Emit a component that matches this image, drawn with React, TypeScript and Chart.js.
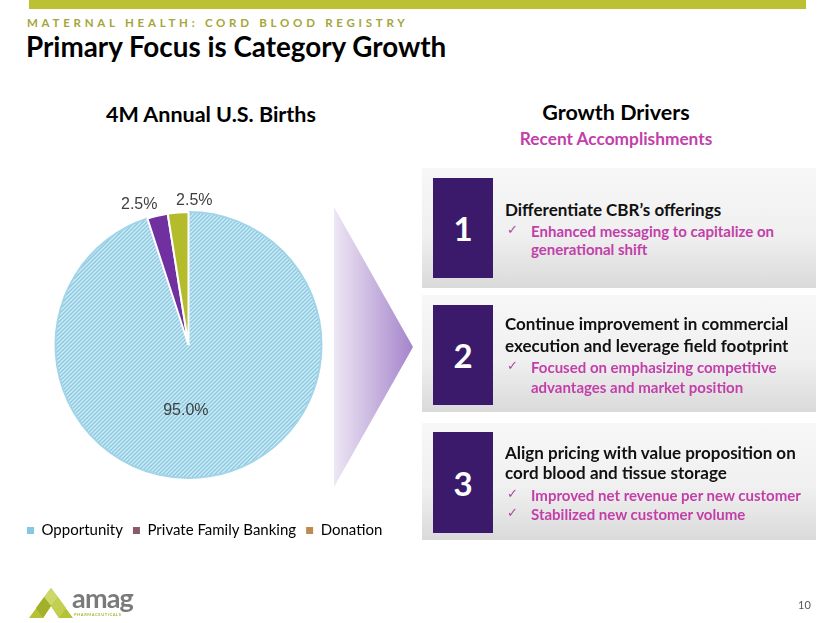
import React, { useEffect, useRef } from 'react';
import { Chart, registerables } from 'chart.js';

Chart.register(...registerables);

// ---- data ----
const categories = ['Opportunity', 'Private Family Banking', 'Donation'];
const shares = [95.0, 2.5, 2.5];

// ---- styles ----
const sliceColors = ['#b6dff0', '#7030a0', '#b5bc2c'];
const legendColors = ['#86c8e2', '#8a5a6c', '#bf8a52'];
const FONT = 'Lato, "Open Sans", sans-serif';
const PINK = '#c23fa9';
const PURPLE = '#3b1a6b';
// space reserved around the pie inside the plot area (left, right, bottom)
const PIE_INSET = { left: 35, right: 77, bottom: 34 };

function makeHatch(ctx: CanvasRenderingContext2D) {
  const c = document.createElement('canvas');
  c.width = 4;
  c.height = 4;
  const g = c.getContext('2d')!;
  g.fillStyle = '#d0ebf6';
  g.fillRect(0, 0, 4, 4);
  g.strokeStyle = '#88c8e1';
  g.lineWidth = 1.3;
  const seg = (x1: number, y1: number, x2: number, y2: number) => {
    g.beginPath();
    g.moveTo(x1, y1);
    g.lineTo(x2, y2);
    g.stroke();
  };
  seg(0, 4, 4, 0);
  seg(-1, 1, 1, -1);
  seg(3, 5, 5, 3);
  return ctx.createPattern(c, 'repeat');
}

const insetPlugin = {
  id: 'pieInset',
  afterLayout(chart: any) {
    const a = chart.chartArea;
    a.left += PIE_INSET.left;
    a.right -= PIE_INSET.right;
    a.bottom -= PIE_INSET.bottom;
    a.width = a.right - a.left;
    a.height = a.bottom - a.top;
  },
};

const sliceLabelPlugin = {
  id: 'sliceLabels',
  afterDatasetsDraw(chart: any) {
    const ctx = chart.ctx as CanvasRenderingContext2D;
    const meta = chart.getDatasetMeta(0);
    ctx.save();
    ctx.font = '16px "Liberation Sans", Arial, sans-serif';
    ctx.fillStyle = '#3f3f3f';
    let small = 0;
    meta.data.forEach((arc: any, i: number) => {
      const p = arc.getProps(['x', 'y', 'startAngle', 'endAngle', 'outerRadius'], true);
      const mid = (p.startAngle + p.endAngle) / 2;
      const text = shares[i].toFixed(1) + '%';
      if (shares[i] > 10) {
        ctx.textAlign = 'center';
        ctx.textBaseline = 'middle';
        ctx.fillText(text, p.x + Math.cos(mid) * p.outerRadius * 0.5 - 13, p.y + Math.sin(mid) * p.outerRadius * 0.5);
      } else {
        const ox = p.x + Math.cos(mid) * p.outerRadius;
        const oy = p.y + Math.sin(mid) * p.outerRadius;
        ctx.textBaseline = 'alphabetic';
        ctx.textAlign = small === 0 ? 'right' : 'left';
        ctx.fillText(text, ox + (small === 0 ? 0 : -2), oy - 7);
        small++;
      }
    });
    ctx.restore();
  },
};

function PieChart() {
  const ref = useRef<HTMLCanvasElement>(null);
  useEffect(() => {
    const canvas = ref.current!;
    const ctx = canvas.getContext('2d')!;
    const hatch = makeHatch(ctx);
    const chart = new Chart(canvas, {
      type: 'pie',
      data: {
        labels: categories,
        datasets: [
          {
            data: shares,
            backgroundColor: [hatch as any, sliceColors[1], sliceColors[2]],
            borderColor: ['#a2d5e9', '#ffffff', '#ffffff'],
            borderWidth: 2,
          },
        ],
      },
      options: {
        responsive: false,
        animation: false,
        layout: { padding: { left: 0, right: 0, top: 31, bottom: 0 } },
        plugins: {
          tooltip: { enabled: false },
          legend: {
            position: 'bottom',
            align: 'start',
            labels: {
              boxWidth: 7,
              boxHeight: 7,
              padding: 10,
              color: '#1a1a1a',
              font: { family: FONT, size: 15 },
              generateLabels: () =>
                categories.map((c, i) => ({
                  text: c,
                  fillStyle: legendColors[i],
                  strokeStyle: legendColors[i],
                  lineWidth: 0,
                  hidden: false,
                  index: i,
                  datasetIndex: 0,
                })),
            },
          },
        },
      },
      plugins: [insetPlugin, sliceLabelPlugin],
    });
    return () => chart.destroy();
  }, []);
  return (
    <canvas
      ref={ref}
      width={385}
      height={368}
      style={{ position: 'absolute', left: 17, top: 180, width: 385, height: 368 }}
    />
  );
}

function Line({ y, check, children }: { y: number; check?: boolean; children: React.ReactNode }) {
  return (
    <div
      style={{
        position: 'absolute',
        left: check ? 531 : 505,
        top: y - 11,
        height: 22,
        lineHeight: '22px',
        whiteSpace: 'nowrap',
        fontFamily: FONT,
        fontWeight: 700,
        fontSize: check ? 15 : 17,
        color: check ? PINK : '#111',
      }}
    >
      {children}
    </div>
  );
}

function CheckMark({ y }: { y: number }) {
  return (
    <div
      style={{
        position: 'absolute',
        left: 507,
        top: y - 10,
        lineHeight: '20px',
        fontFamily: '"DejaVu Sans", sans-serif',
        fontSize: 13,
        color: '#b0449a',
      }}
    >
      ✓
    </div>
  );
}

function Box({ top, height, sqTop, sqH, num }: { top: number; height: number; sqTop: number; sqH: number; num: string }) {
  return (
    <>
      <div
        style={{
          position: 'absolute',
          left: 422,
          top,
          width: 394,
          height,
          background: 'linear-gradient(to bottom, #f7f7f7 0%, #f0f0f0 55%, #dadada 100%)',
        }}
      />
      <div
        style={{
          position: 'absolute',
          left: 433,
          top: sqTop,
          width: 60,
          height: sqH,
          background: PURPLE,
          color: '#fff',
          fontFamily: FONT,
          fontWeight: 700,
          fontSize: 33,
          display: 'flex',
          alignItems: 'center',
          justifyContent: 'center',
        }}
      >
        {num}
      </div>
    </>
  );
}

export default function App() {
  return (
    <div
      style={{
        position: 'absolute',
        left: 0,
        top: 0,
        width: 830,
        height: 623,
        background: '#fff',
        overflow: 'hidden',
        fontFamily: FONT,
      }}
    >
      <div style={{ position: 'absolute', left: 29, top: 0, width: 777, height: 9, background: '#bcc033' }} />
      <div
        style={{
          position: 'absolute',
          left: 27,
          top: 15,
          fontSize: 11.5,
          fontWeight: 700,
          letterSpacing: 3.75,
          color: '#a4a63a',
          lineHeight: '16px',
          whiteSpace: 'nowrap',
        }}
      >
        MATERNAL HEALTH: CORD BLOOD REGISTRY
      </div>
      <div
        style={{
          position: 'absolute',
          left: 26,
          top: 30,
          fontSize: 27.8,
          fontWeight: 700,
          color: '#000',
          lineHeight: '34px',
          whiteSpace: 'nowrap',
        }}
      >
        Primary Focus is Category Growth
      </div>
      <div
        style={{
          position: 'absolute',
          left: 61,
          width: 300,
          textAlign: 'center',
          top: 101,
          fontSize: 21.5,
          fontWeight: 700,
          lineHeight: '26px',
          color: '#000',
        }}
      >
        4M Annual U.S. Births
      </div>
      <div
        style={{
          position: 'absolute',
          left: 466,
          width: 300,
          textAlign: 'center',
          top: 99,
          fontSize: 21.5,
          fontWeight: 700,
          lineHeight: '26px',
          color: '#000',
        }}
      >
        Growth Drivers
      </div>
      <div
        style={{
          position: 'absolute',
          left: 466,
          width: 300,
          textAlign: 'center',
          top: 128,
          fontSize: 17.3,
          fontWeight: 700,
          lineHeight: '22px',
          color: PINK,
        }}
      >
        Recent Accomplishments
      </div>

      <PieChart />

      <svg style={{ position: 'absolute', left: 0, top: 0 }} width={830} height={623}>
        <defs>
          <linearGradient id="arrowGrad" x1="0" y1="0" x2="1" y2="0">
            <stop offset="0" stopColor="#ede7f4" />
            <stop offset="1" stopColor="#a584cb" />
          </linearGradient>
        </defs>
        <polygon points="334,207 413,347 334,487" fill="url(#arrowGrad)" />
        {/* logo */}
        <polygon points="51,588 73,618 59,618 51,606 43,618 29,618" fill="#b4c234" />
        <polygon points="51,588 58,597 51,606 44,597" fill="#cdd86a" />
        <polygon points="44,597 51,606 43,618 36,608" fill="#a3b02a" />
        <polygon points="58,597 66,608 59,618 51,606" fill="#c3cf50" />
      </svg>

      <Box top={168} height={120} sqTop={178} sqH={100} num="1" />
      <Line y={210}>Differentiate CBR’s offerings</Line>
      <CheckMark y={230} />
      <Line y={231} check>Enhanced messaging to capitalize on</Line>
      <Line y={249} check>generational shift</Line>

      <Box top={295} height={117} sqTop={305} sqH={100} num="2" />
      <Line y={324}>Continue improvement in commercial</Line>
      <Line y={346}>execution and leverage field footprint</Line>
      <CheckMark y={366} />
      <Line y={367} check>Focused on emphasizing competitive</Line>
      <Line y={387} check>advantages and market position</Line>

      <Box top={423} height={117} sqTop={432} sqH={101} num="3" />
      <Line y={453}>Align pricing with value proposition on</Line>
      <Line y={473}>cord blood and tissue storage</Line>
      <CheckMark y={494} />
      <Line y={495} check>Improved net revenue per new customer</Line>
      <CheckMark y={513} />
      <Line y={514} check>Stabilized new customer volume</Line>

      <div
        style={{
          position: 'absolute',
          left: 72,
          top: 584,
          fontSize: 27,
          fontWeight: 700,
          color: '#7a7a7a',
          lineHeight: '28px',
          letterSpacing: -0.8,
        }}
      >
        amag
      </div>
      <div
        style={{
          position: 'absolute',
          left: 74,
          top: 612,
          fontSize: 4,
          fontWeight: 700,
          color: '#a9b43a',
          letterSpacing: 0.6,
          lineHeight: '5px',
        }}
      >
        PHARMACEUTICALS
      </div>
      <div
        style={{
          position: 'absolute',
          left: 798,
          top: 598,
          fontSize: 11,
          color: '#595959',
          lineHeight: '14px',
        }}
      >
        10
      </div>
    </div>
  );
}
